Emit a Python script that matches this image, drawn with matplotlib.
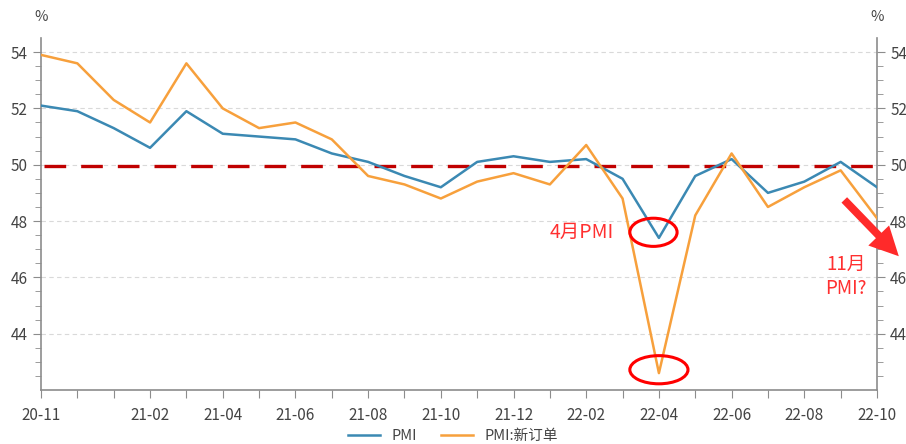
import numpy as np
import matplotlib
matplotlib.use("Agg")
import matplotlib.pyplot as plt
from matplotlib.patches import Ellipse

plt.rcParams['font.family'] = ['Noto Sans CJK SC', 'DejaVu Sans']

# data
months = ['20-11', '20-12', '21-01', '21-02', '21-03', '21-04', '21-05', '21-06',
          '21-07', '21-08', '21-09', '21-10', '21-11', '21-12', '22-01', '22-02',
          '22-03', '22-04', '22-05', '22-06', '22-07', '22-08', '22-09', '22-10']
pmi = [52.1, 51.9, 51.3, 50.6, 51.9, 51.1, 51.0, 50.9, 50.4, 50.1, 49.6, 49.2,
       50.1, 50.3, 50.1, 50.2, 49.5, 47.4, 49.6, 50.2, 49.0, 49.4, 50.1, 49.2]
new_orders = [53.9, 53.6, 52.3, 51.5, 53.6, 52.0, 51.3, 51.5, 50.9, 49.6, 49.3, 48.8,
              49.4, 49.7, 49.3, 50.7, 48.8, 42.6, 48.2, 50.4, 48.5, 49.2, 49.8, 48.1]
shown_labels = ['20-11', '21-02', '21-04', '21-06', '21-08', '21-10', '21-12',
                '22-02', '22-04', '22-06', '22-08', '22-10']

blue = '#3b89b3'
orange = '#f7a03c'
axcol = '#8c8c8c'
txtcol = '#444444'
red = '#ff3030'

fig = plt.figure(figsize=(9.06, 4.44), dpi=100)
ax = fig.add_axes([41 / 906, 54 / 444, 836 / 906, 352 / 444])
x = np.arange(len(months))

ax.plot(x, pmi, color=blue, lw=1.8, label='PMI', zorder=3)
ax.plot(x, new_orders, color=orange, lw=1.8, label='PMI:新订单', zorder=3)
ax.plot([0.08, len(months) - 1], [49.97, 49.97], color='#c00000', lw=2.4,
        dashes=(6.5, 4.5), zorder=2)

ax.set_xlim(0, len(months) - 1)
ax.set_ylim(42, 54.5)
ax.set_yticks([44, 46, 48, 50, 52, 54])
ax.set_yticks(np.arange(42.5, 54.5, 0.5), minor=True)
ax.set_xticks(x)
ax.set_xticklabels([m if m in shown_labels else '' for m in months])
ax.grid(axis='y', color='#d9d9d9', ls=(0, (4, 3)), lw=0.8)

ax.spines['top'].set_visible(False)
for s in ['left', 'right', 'bottom']:
    ax.spines[s].set_color(axcol)
    ax.spines[s].set_linewidth(1.2)
ax.tick_params(axis='both', which='both', colors=axcol, labelcolor=txtcol, labelsize=11)
ax.tick_params(axis='y', which='major', length=6, right=True, labelright=True)
ax.tick_params(axis='y', which='minor', length=4, right=True)
ax.tick_params(axis='x', length=6, pad=6)

ax.text(0, 55.0, '%', ha='center', va='bottom', color=txtcol, fontsize=10.5)
ax.text(len(months) - 1, 55.0, '%', ha='center', va='bottom', color=txtcol, fontsize=10.5)

# annotations
ax.add_patch(Ellipse((16.85, 47.6), 1.3, 1.0, fill=False, ec='#ff0000', lw=2.2, zorder=4))
ax.add_patch(Ellipse((17.0, 42.72), 1.6, 1.0, fill=False, ec='#ff0000', lw=2.2, zorder=4))
ax.text(15.75, 47.6, '4月PMI', color=red, fontsize=14, ha='right', va='center')
ax.text(22.15, 46.85, '11月\nPMI?', color=red, fontsize=13.5, ha='center', va='top',
        linespacing=1.25)
ax.annotate('', xy=(23.6, 46.75), xytext=(22.1, 48.75), annotation_clip=False,
            arrowprops=dict(arrowstyle='simple,head_length=1.3,head_width=1.3,tail_width=0.35',
                            mutation_scale=16, color='#ff2a2a', lw=0, shrinkA=0, shrinkB=0))

fig.legend(loc='center', bbox_to_anchor=(0.5, 0.018), ncol=2, frameon=False,
           fontsize=10.5, handlelength=2.2, labelcolor=txtcol, borderpad=0,
           columnspacing=1.6)

fig.savefig('out.png', dpi=100)
